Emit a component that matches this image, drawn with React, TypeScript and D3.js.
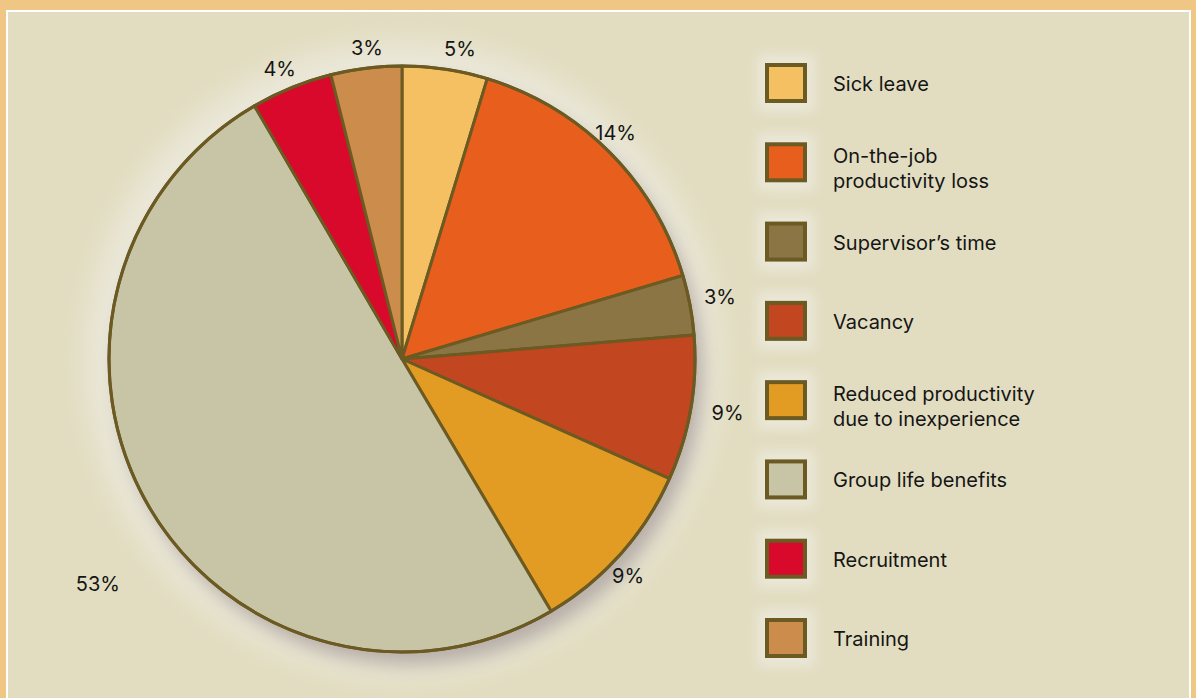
import React from "react";
import * as d3 from "d3";

const categories = [
  "Sick leave",
  "On-the-job productivity loss",
  "Supervisor’s time",
  "Vacancy",
  "Reduced productivity due to inexperience",
  "Group life benefits",
  "Recruitment",
  "Training",
];
// Slice shares as drawn in the picture (percent)
const shares = [4.7, 15.7, 3.3, 8.0, 9.8, 50.1, 4.5, 3.9];
// Printed labels
const percentLabels = ["5%", "14%", "3%", "9%", "9%", "53%", "4%", "3%"];
const legendLines = [
  ["Sick leave"],
  ["On-the-job", "productivity loss"],
  ["Supervisor’s time"],
  ["Vacancy"],
  ["Reduced productivity", "due to inexperience"],
  ["Group life benefits"],
  ["Recruitment"],
  ["Training"],
];
const colors = ["#f4c062", "#e85e1c", "#8b7544", "#c2461f", "#e39c23", "#c8c4a6", "#d8092a", "#cc8c4c"];

// layout tweaks for label placement (radius from centre, angle offset in degrees)
const labelRadius = [316, 311, 324, 330, 313, 378, 315, 313];
const labelAngleShift = [2.1, -1.8, -0.4, -0.3, 2.0, -6.0, -0.7, 0.6];

const W = 1196;
const H = 698;
const cx = 402;
const cy = 359;
const R = 293;
const FONT = "Inter, 'Open Sans', sans-serif";
const FS = 20;

export default function App() {
  const pie = d3.pie<number>().sort(null).value((d) => d)(shares);
  const arc = d3.arc<d3.PieArcDatum<number>>().innerRadius(0).outerRadius(R);

  const legendY = d3.scaleLinear().domain([0, categories.length - 1]).range([83, 638]);

  return (
    <svg
      width={W}
      height={H}
      style={{ position: "absolute", left: 0, top: 0, display: "block" }}
      fontFamily={FONT}
    >
      <defs>
        <filter id="blurShadow" x="-30%" y="-30%" width="160%" height="160%">
          <feGaussianBlur stdDeviation="9" />
        </filter>
        <filter id="blurHalo" x="-30%" y="-30%" width="160%" height="160%">
          <feGaussianBlur stdDeviation="14" />
        </filter>
        <filter id="blurBox" x="-50%" y="-50%" width="200%" height="200%">
          <feGaussianBlur stdDeviation="6" />
        </filter>
      </defs>
      {/* frame */}
      <rect x={0} y={0} width={W} height={H} fill="#f0c684" />
      <rect x={6} y={10} width={1185} height={H} fill="#ffffff" />
      <rect x={8} y={12} width={1181} height={H} fill="#e2ddc1" />

      {/* halo and shadow */}
      <circle cx={cx} cy={cy} r={R + 22} fill="#ebe8da" filter="url(#blurHalo)" />
      <circle cx={cx + 8} cy={cy + 13} r={R} fill="#7a6a6e" opacity={0.45} filter="url(#blurShadow)" />

      {/* pie */}
      <g transform={`translate(${cx},${cy})`}>
        {pie.map((p, i) => (
          <path
            key={i}
            d={arc(p) || ""}
            fill={colors[i]}
            stroke="#6b5a22"
            strokeWidth={3}
            strokeLinejoin="round"
          />
        ))}
        <circle r={R} fill="none" stroke="#6b5a22" strokeWidth={3} />
        {pie.map((p, i) => {
          const a = (p.startAngle + p.endAngle) / 2 + (labelAngleShift[i] * Math.PI) / 180;
          const r = labelRadius[i];
          return (
            <text
              key={`l${i}`}
              x={Math.sin(a) * r}
              y={-Math.cos(a) * r}
              textAnchor="middle"
              dy="0.36em"
              fontSize={FS}
              fill="#151515"
            >
              {percentLabels[i]}
            </text>
          );
        })}
      </g>

      {/* legend */}
      <g>
        {categories.map((c, i) => {
          const y = legendY(i);
          const lines = legendLines[i];
          return (
            <g key={c}>
              <rect x={758} y={y - 28} width={56} height={56} fill="#ebe8da" filter="url(#blurBox)" />
              <rect x={767} y={y - 18} width={38} height={36} fill={colors[i]} stroke="#6b5a22" strokeWidth={4} />
              <text x={833} y={lines.length === 1 ? y + 8 : y + 1} fontSize={FS} fill="#151515">
                {lines.map((t, k) => (
                  <tspan key={k} x={833} dy={k === 0 ? 0 : 25}>
                    {t}
                  </tspan>
                ))}
              </text>
            </g>
          );
        })}
      </g>
    </svg>
  );
}
